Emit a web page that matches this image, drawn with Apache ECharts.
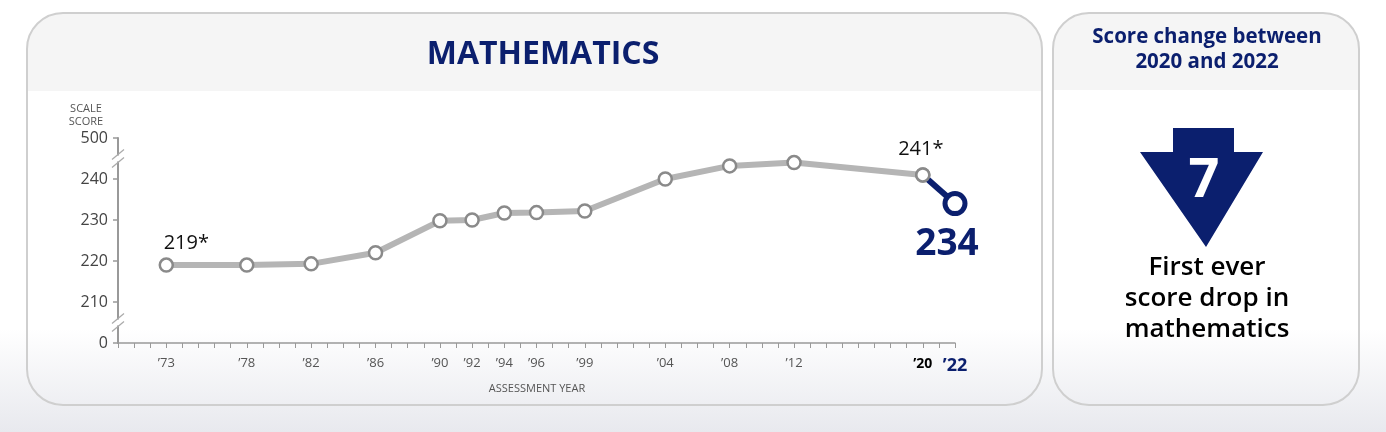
<!DOCTYPE html>
<html><head><meta charset="utf-8">
<script src="https://cdn.jsdelivr.net/npm/echarts@6/dist/echarts.min.js"></script>
<style>
html,body{margin:0;padding:0;width:1386px;height:432px;overflow:hidden;
background:linear-gradient(to bottom,#ffffff 0%,#ffffff 76%,#e8e9ee 100%);}
#c{width:1386px;height:432px;}
</style></head>
<body><div id="c"></div>
<script>
const years = [1973,1978,1982,1986,1990,1992,1994,1996,1999,2004,2008,2012,2020];
const scores = [219,219,219.3,222,229.8,230,231.7,231.8,232.2,240,243.2,244,241];
const recentYears = [2020,2022];
const recentScores = [241,234];
const yTickLabels = {200:'0',210:'210',220:'220',230:'230',240:'240',250:'500'};
const xTickLabels = {1973:'’73',1978:'’78',1982:'’82',1986:'’86',1990:'’90',1992:'’92',1994:'’94',1996:'’96',1999:'’99',2004:'’04',2008:'’08',2012:'’12',2020:'’20',2022:'’22'};
const changeValue = 7;

const NAVY = '#0b1f6e';
const FONT = '"Open Sans", "Noto Sans", sans-serif';

const chart = echarts.init(document.getElementById('c'));

const grayData = years.map((y,i)=>[y,scores[i]]);
const navyData = [
  {value:[recentYears[0],recentScores[0]], symbolSize:13,
   itemStyle:{color:'#fff',borderColor:'#8a8a8a',borderWidth:2.5},
   label:{show:true,position:'top',distance:8,formatter:()=>recentScores[0]+'*',
     color:'#111',fontSize:20,fontFamily:FONT,offset:[-2,0]}},
  {value:[recentYears[1],recentScores[1]], symbolSize:20,
   itemStyle:{color:'#fff',borderColor:NAVY,borderWidth:5},
   label:{show:true,position:'bottom',distance:10,formatter:()=>String(recentScores[1]),
     color:NAVY,fontSize:37,fontWeight:'bold',fontFamily:FONT,offset:[-8,0]}}
];

const grayDataItems = grayData.map((d,i)=>{
  if(i===0) return {value:d,label:{show:true,position:'top',distance:4,offset:[20,0],
    formatter:()=>Math.round(scores[0])+'*',color:'#111',fontSize:20,fontFamily:FONT}};
  return {value:d};
});

const option = {
  animation:false,
  textStyle:{fontFamily:FONT},
  grid:{left:118,right:431,top:138,bottom:89,containLabel:false},
  xAxis:{type:'value',min:1970,max:2022,interval:1,
    axisLine:{lineStyle:{color:'#999',width:1.5}},
    axisTick:{show:true,length:5,lineStyle:{color:'#999',width:1}},
    splitLine:{show:false},
    axisLabel:{margin:14,fontFamily:FONT,
      formatter:(v)=>{const t=xTickLabels[v]; if(!t) return '';
        if(v===2022) return '{n|'+t+'}'; if(v===2020) return '{b|'+t+'}'; return '{g|'+t+'}';},
      rich:{g:{fontSize:13,color:'#555',fontFamily:FONT},
            b:{fontSize:14,color:'#000',fontWeight:'bold',fontFamily:FONT},
            n:{fontSize:18,color:NAVY,fontWeight:'bold',fontFamily:FONT}}}
  },
  yAxis:{type:'value',min:200,max:250,interval:10,
    axisLine:{show:true,lineStyle:{color:'#999',width:2}},
    axisTick:{show:true,length:5,lineStyle:{color:'#999',width:1.5}},
    splitLine:{show:false},
    axisLabel:{margin:10,fontSize:16,color:'#444',fontFamily:FONT,
      formatter:(v)=>yTickLabels[v]||''}
  },
  series:[
    {type:'line',data:grayDataItems,z:3,symbol:'circle',symbolSize:13,
     lineStyle:{color:'#b5b5b5',width:6},
     itemStyle:{color:'#fff',borderColor:'#8a8a8a',borderWidth:2.5}},
    {type:'line',data:navyData,z:4,symbol:'circle',
     lineStyle:{color:NAVY,width:6}}
  ],
  graphic:[]
};
chart.setOption(option);

// break marks computed from the axis scale
const xAxisPx = chart.convertToPixel({gridIndex:0},[1970,245])[0];
const yBreak1 = chart.convertToPixel({gridIndex:0},[1970,245])[1];
const yBreak2 = chart.convertToPixel({gridIndex:0},[1970,205])[1];
function breakMark(yc){
  return [
    {type:'rect',z:5,shape:{x:xAxisPx-3,y:yc-3,width:6,height:6},style:{fill:'#fff'}},
    {type:'line',z:6,shape:{x1:xAxisPx-6,y1:yc+1,x2:xAxisPx+6,y2:yc-9},style:{stroke:'#aaa',lineWidth:1.2}},
    {type:'line',z:6,shape:{x1:xAxisPx-6,y1:yc+9,x2:xAxisPx+6,y2:yc-1},style:{stroke:'#aaa',lineWidth:1.2}}
  ];
}

const R = 36;
const graphics = [
  // left panel
  {type:'rect',z:-10,silent:true,shape:{x:27,y:13,width:1015,height:78,r:[R,R,0,0]},style:{fill:'#f5f5f5'}},
  {type:'rect',z:-9,silent:true,shape:{x:27,y:13,width:1015,height:392,r:R},style:{fill:'none',stroke:'#cfcfcf',lineWidth:2}},
  // right panel
  {type:'rect',z:-10,silent:true,shape:{x:1053,y:13,width:306,height:77,r:[R,R,0,0]},style:{fill:'#f5f5f5'}},
  {type:'rect',z:-9,silent:true,shape:{x:1053,y:13,width:306,height:392,r:R},style:{fill:'none',stroke:'#cfcfcf',lineWidth:2}},
  // titles
  {type:'text',z:10,style:{text:'MATHEMATICS',x:543,y:55,align:'center',verticalAlign:'middle',
    fontSize:32,fontWeight:'bold',fill:NAVY,fontFamily:FONT}},
  {type:'text',z:10,style:{text:'Score change between\n2020 and 2022',x:1207,y:50,align:'center',verticalAlign:'middle',
    fontSize:20.5,fontWeight:'bold',fill:NAVY,fontFamily:FONT,lineHeight:25}},
  {type:'text',z:10,style:{text:'SCALE\nSCORE',x:86,y:115,align:'center',verticalAlign:'middle',
    fontSize:11,fill:'#555',fontFamily:FONT,lineHeight:13}},
  {type:'text',z:10,style:{text:'ASSESSMENT YEAR',x:537,y:389,align:'center',verticalAlign:'middle',
    fontSize:11,fill:'#555',fontFamily:FONT}},
  // arrow
  {type:'polygon',z:10,shape:{points:[[1173,128],[1234,128],[1234,152],[1263,152],[1206,247],[1140,152],[1173,152]]},
    style:{fill:NAVY}},
  {type:'text',z:11,style:{text:String(changeValue),x:1204,y:182,align:'center',verticalAlign:'middle',
    fontSize:54,fontWeight:'bold',fill:'#fff',fontFamily:FONT}},
  {type:'text',z:10,style:{text:'First ever\nscore drop in\nmathematics',x:1207,y:299,align:'center',verticalAlign:'middle',
    fontSize:26,fontWeight:600,fill:'#000',fontFamily:FONT,lineHeight:31}}
].concat(breakMark(yBreak1), breakMark(yBreak2));

chart.setOption({graphic:graphics});
</script>
</body></html>
